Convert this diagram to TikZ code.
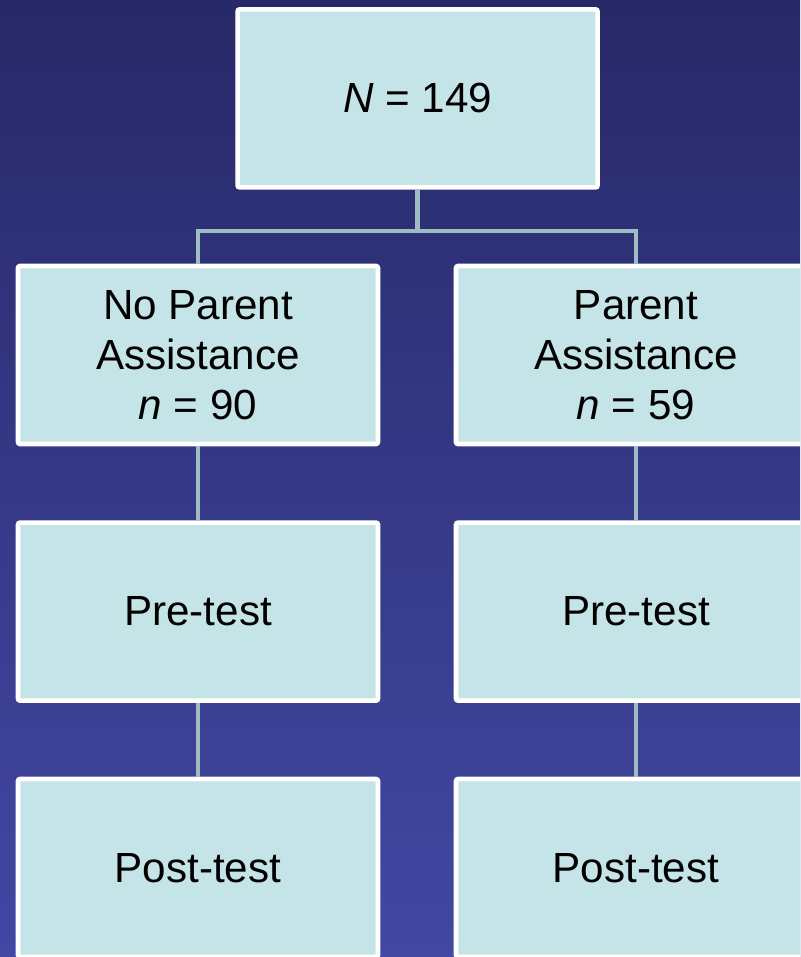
\documentclass[tikz,border=0pt]{standalone}
\usepackage{fontspec}
\setmainfont{Liberation Sans}
\definecolor{bgtop}{RGB}{40,41,104}
\definecolor{bgbottom}{RGB}{66,72,163}
\definecolor{boxfill}{RGB}{197,228,232}
\definecolor{linkgray}{RGB}{158,188,195}
\tikzset{
  stagebox/.style={draw=white, line width=3.3pt, rounded corners=1.5pt, fill=boxfill, align=center,
    minimum width=9.0cm, minimum height=4.45cm, font=\fontsize{30}{35.5}\selectfont},
  link/.style={draw=linkgray, line width=3.4pt}
}
\begin{document}
\begin{tikzpicture}
    % Background
    \clip (0,0) rectangle (20,-23.925);
    \shade[top color=bgtop, bottom color=bgbottom] (0,0) rectangle (20,-23.925);

    % Draw boxes
    \node[stagebox] (total) at (10.44,-2.46) {\textit{N} = 149};
    \node[stagebox] (noparent) at (4.95,-8.875) {No Parent \\ Assistance \\ \textit{n} = 90};
    \node[stagebox] (parent) at (15.9,-8.875) {Parent \\ Assistance \\ \textit{n} = 59};
    \node[stagebox] (nopre) at (4.95,-15.29) {Pre-test};
    \node[stagebox] (pre) at (15.9,-15.29) {Pre-test};
    \node[stagebox] (nopost) at (4.95,-21.7) {Post-test};
    \node[stagebox] (post) at (15.9,-21.7) {Post-test};

    % Draw connectors
    \coordinate (split) at (10.44,-5.775);
    \draw[link] (total.south) -- (split);
    \draw[link] (noparent.north) |- (split) -| (parent.north);
    \draw[link] (noparent.south) -- (nopre.north);
    \draw[link] (parent.south) -- (pre.north);
    \draw[link] (nopre.south) -- (nopost.north);
    \draw[link] (pre.south) -- (post.north);
\end{tikzpicture}
\end{document}
